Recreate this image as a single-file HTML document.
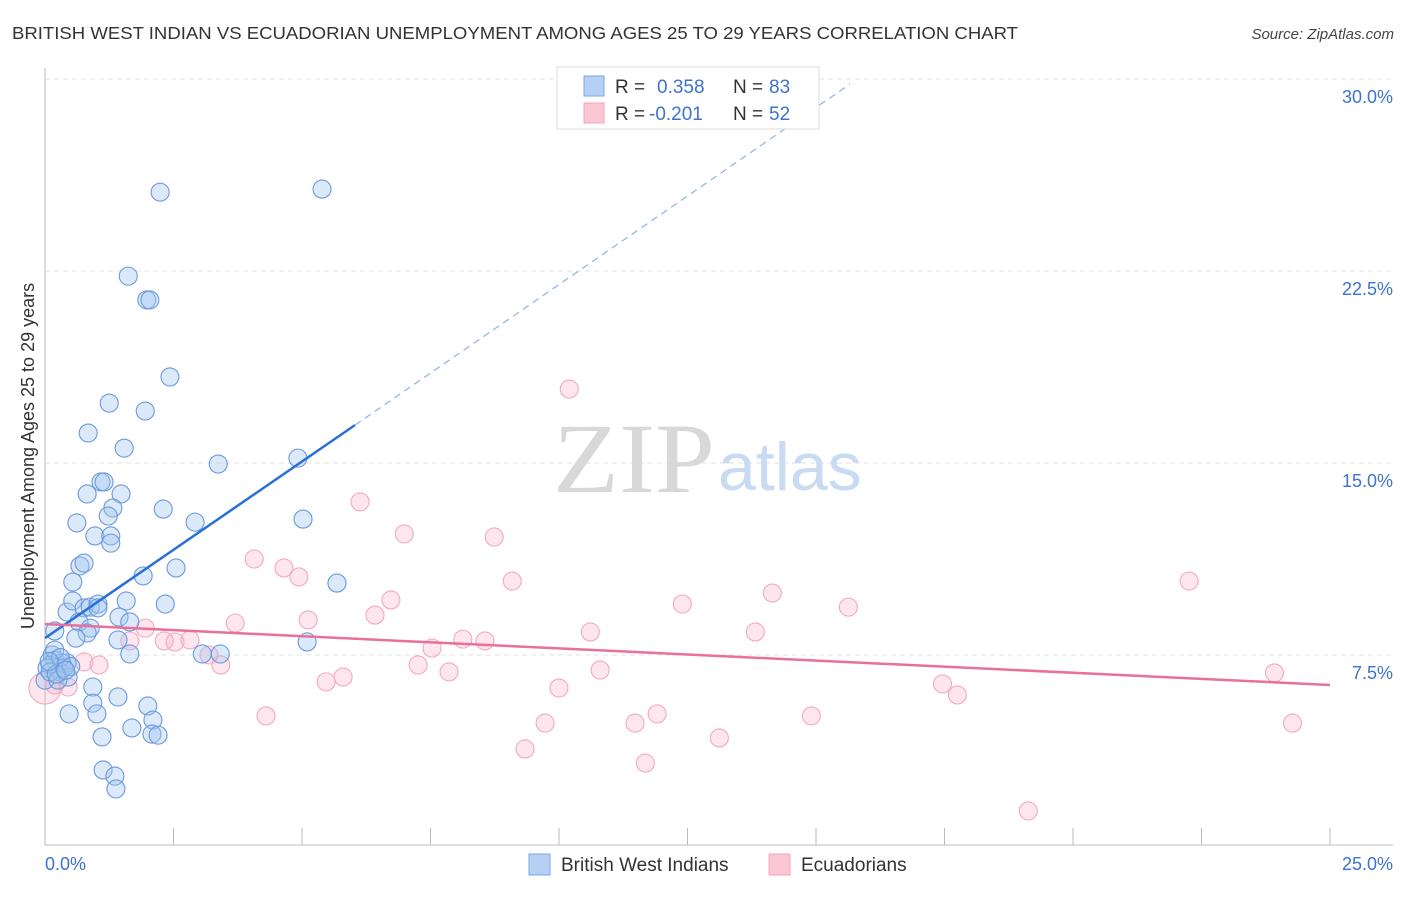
<!DOCTYPE html>
<html><head><meta charset="utf-8"><style>
body{margin:0;background:#fff;font-family:"Liberation Sans",sans-serif;}
svg text{font-family:"Liberation Sans",sans-serif;}
</style></head><body>
<svg id="chart" width="1406" height="892" viewBox="0 0 1406 892" xmlns="http://www.w3.org/2000/svg">
<text x="12" y="39" font-size="17.5" fill="#333" textLength="1006" lengthAdjust="spacingAndGlyphs">BRITISH WEST INDIAN VS ECUADORIAN UNEMPLOYMENT AMONG AGES 25 TO 29 YEARS CORRELATION CHART</text>
<text x="1394" y="39" font-size="15" fill="#444" text-anchor="end" font-style="italic">Source: ZipAtlas.com</text>
<g id="grid"></g>
<g>
<text x="553" y="492" font-size="100" fill="#d8d8d8" style="font-family:'Liberation Serif',serif" textLength="162" lengthAdjust="spacingAndGlyphs">ZIP</text>
<text x="718" y="490" font-size="68" fill="#c9daf3">atlas</text>
</g>
<line x1="45" y1="68" x2="45" y2="845" stroke="#bbb" stroke-width="1"/>
<line x1="45" y1="845" x2="1393" y2="845" stroke="#bbb" stroke-width="1"/>
<g id="ticks"></g>
<g id="ylabels"></g>
<text x="45" y="870" font-size="18" fill="#3d72d1">0.0%</text>
<text x="1393" y="870" font-size="18" fill="#3d72d1" text-anchor="end">25.0%</text>
<text transform="translate(34,456) rotate(-90)" font-size="18" fill="#333" text-anchor="middle">Unemployment Among Ages 25 to 29 years</text>
<g id="pinkpts"></g>
<g id="bluepts"></g>
<g id="trends"></g>
<g>
<rect x="557" y="67" width="262" height="62" fill="#fff" stroke="#ddd"/>
<rect x="584" y="76" width="20" height="20" fill="#b6d0f4" stroke="#7aa6e6"/>
<rect x="584" y="103" width="20" height="20" fill="#fac6d4" stroke="#f2a5bb"/>
<text x="615" y="93" font-size="19" fill="#333">R =</text>
<text x="657" y="93" font-size="19" fill="#3d72d1">0.358</text>
<text x="733" y="93" font-size="19" fill="#333">N =</text>
<text x="769" y="93" font-size="19" fill="#3d72d1">83</text>
<text x="615" y="120" font-size="19" fill="#333">R =</text>
<text x="649" y="120" font-size="19" fill="#3d72d1">-0.201</text>
<text x="733" y="120" font-size="19" fill="#333">N =</text>
<text x="769" y="120" font-size="19" fill="#3d72d1">52</text>
</g>
<g>
<rect x="529" y="854" width="21" height="21" fill="#b6d0f4" stroke="#7aa6e6"/>
<text x="561" y="871" font-size="19" fill="#333">British West Indians</text>
<rect x="769" y="854" width="21" height="21" fill="#fac6d4" stroke="#f2a5bb"/>
<text x="801" y="871" font-size="19" fill="#333">Ecuadorians</text>
</g>
</svg>
<script>
const yTicks=[7.5,15.0,22.5,30.0];
const yTickLabels=["7.5%","15.0%","22.5%","30.0%"];
const xTickVals=[0,2.5,5,7.5,10,12.5,15,17.5,20,22.5,25];
const blueX=[2.24,5.39,1.62,1.98,2.04,2.43,1.25,1.95,0.84,1.54,3.37,4.92,0.82,1.09,1.15,1.48,1.32,2.30,0.62,2.92,5.02,1.23,0.97,1.28,1.28,0.68,0.76,1.91,2.55,5.68,0.54,0.43,0.54,0.76,0.88,1.03,1.03,1.58,2.34,1.44,1.65,0.66,0.88,0.82,0.19,0.60,1.42,1.65,5.10,3.41,3.06,0.14,0.19,0.33,0.10,0.43,0.04,0.29,0.45,0.00,0.93,1.42,0.93,2.00,0.47,1.01,2.10,1.69,1.11,2.08,2.20,1.13,1.36,1.38,0.19,0.10,0.25,0.37,0.30,0.50,0.22,0.08,0.40];
const blueY=[25.58,25.70,22.30,21.37,21.37,18.36,17.34,17.03,16.17,15.58,14.96,15.19,13.79,14.26,14.26,13.79,13.24,13.20,12.66,12.69,12.81,12.93,12.15,12.15,11.87,10.98,11.09,10.59,10.90,10.31,10.35,9.18,9.61,9.34,9.37,9.49,9.34,9.61,9.49,8.98,8.79,8.79,8.55,8.36,8.44,8.16,8.09,7.54,8.01,7.54,7.54,7.50,7.30,7.19,7.11,7.19,6.99,6.84,6.64,6.52,6.25,5.86,5.62,5.51,5.20,5.20,4.96,4.65,4.30,4.41,4.37,3.01,2.77,2.27,7.69,6.84,6.52,6.99,7.40,7.05,6.75,7.25,6.90];
const pinkX=[10.20,6.13,6.99,8.74,4.07,4.65,4.94,9.09,22.26,6.73,14.15,12.40,15.63,6.42,5.12,3.70,1.95,10.61,13.82,8.13,8.56,2.32,2.82,1.65,2.53,7.53,3.19,7.26,3.42,1.05,0.76,10.80,7.86,5.80,5.47,23.92,17.46,10.00,17.75,0.45,0.19,4.30,11.91,14.91,9.73,11.48,24.27,9.34,13.12,11.68,19.13,0.00];
const pinkY=[17.89,13.48,12.23,12.11,11.25,10.90,10.55,10.39,10.39,9.65,9.92,9.49,9.37,9.06,8.87,8.75,8.55,8.40,8.40,8.12,8.05,8.05,8.09,8.05,8.01,7.77,7.50,7.11,7.11,7.11,7.23,6.91,6.84,6.64,6.45,6.80,6.37,6.21,5.94,6.25,6.33,5.12,5.20,5.12,4.84,4.84,4.84,3.83,4.26,3.28,1.41,6.21];
const blueTrend=[[0,8.16],[6.03,16.48]];
const blueTrendDash=[[6.03,16.48],[15.66,29.8]];
const pinkTrend=[[0,8.71],[25,6.33]];
const NS="http://www.w3.org/2000/svg";
const sx=v=>45+v*(1285/25);
const sy=v=>847-v*(192/7.5);
function mk(tag,parent,attrs){const e=document.createElementNS(NS,tag);for(const k in attrs)e.setAttribute(k,attrs[k]);document.getElementById(parent).appendChild(e);return e;}
yTicks.forEach((t,i)=>{
 const l=mk('line','grid',{x1:45,x2:1393,y1:sy(t),y2:sy(t),stroke:'#e2e2e2','stroke-dasharray':'5,4'});
 
 
 const tx=mk('text','ylabels',{x:1393,y:sy(t)+24,'font-size':18,fill:'#3d72d1','text-anchor':'end'});
 tx.textContent=yTickLabels[i];
 
 
});
xTickVals.forEach(v=>{
 const l=mk('line','ticks',{x1:sx(v),x2:sx(v),y1:828,y2:845,stroke:'#bbb'});
 
 
});
pinkX.forEach((x,i)=>{
 const r=i===pinkX.length-1?16:9;
 const c=mk('circle','pinkpts',{cx:sx(x),cy:sy(pinkY[i]),r:r,fill:'rgba(248,176,198,0.32)',stroke:'#f2a9bf','stroke-width':1.1});
 
 
});
blueX.forEach((x,i)=>{
 const c=mk('circle','bluepts',{cx:sx(x),cy:sy(blueY[i]),r:9,fill:'rgba(160,196,240,0.38)',stroke:'#6a99dd','stroke-width':1.1});
 
 
});
const bt=mk('line','trends',{x1:sx(blueTrend[0][0]),y1:sy(blueTrend[0][1]),x2:sx(blueTrend[1][0]),y2:sy(blueTrend[1][1]),stroke:'#2a6fd6','stroke-width':2.5});


const bd=mk('line','trends',{x1:sx(blueTrendDash[0][0]),y1:sy(blueTrendDash[0][1]),x2:sx(blueTrendDash[1][0]),y2:sy(blueTrendDash[1][1]),stroke:'#8fb2e6','stroke-width':1.2,'stroke-dasharray':'7,5'});


const pt=mk('line','trends',{x1:sx(pinkTrend[0][0]),y1:sy(pinkTrend[0][1]),x2:sx(pinkTrend[1][0]),y2:sy(pinkTrend[1][1]),stroke:'#e8709a','stroke-width':2.5});


</script>
</body></html>
